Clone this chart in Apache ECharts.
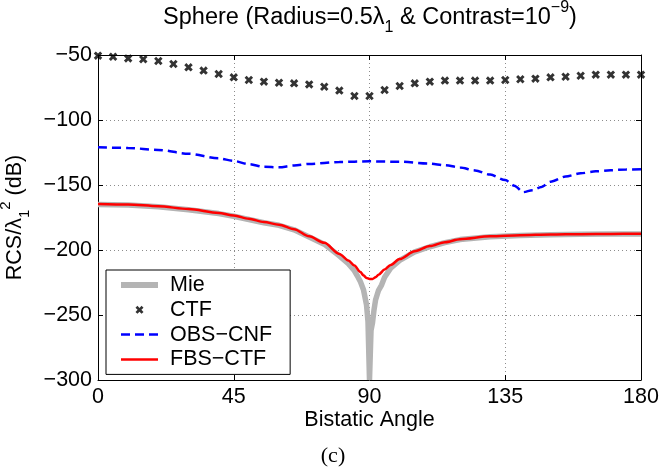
<!DOCTYPE html>
<html>
<head>
<meta charset="utf-8">
<script src="https://cdn.jsdelivr.net/npm/echarts@6/dist/echarts.min.js"></script>
<style>
html, body { margin: 0; padding: 0; background: #fff; }
#main { width: 662px; height: 474px; }
</style>
</head>
<body>
<div id="main"></div>
<script>
// values (bistatic angle in degrees, RCS in dB)
const ctfAngle = [0, 5, 10, 15, 20, 25, 30, 35, 40, 45, 50, 55, 60, 65, 70, 75, 80, 85, 90,
    95, 100, 105, 110, 115, 120, 125, 130, 135, 140, 145, 150, 155, 160, 165, 170, 175, 180];
const ctfValue = [-50.5, -51.3, -52.6, -53.3, -54.6, -56.9, -59.5, -62, -64.6, -67.2, -69.2, -70.5, -71.3, -71.8, -72.6, -74.4, -77.4, -81.5, -81.5,
    -76.9, -73.8, -71.8, -70.5, -69.7, -69.7, -69.7, -69.7, -69.2, -68.7, -68.2, -67.2, -66.7, -65.9, -65.1, -65.1, -65.1, -65.1];

const obsAngle = [0, 10, 20, 30, 40, 45, 50, 55, 60, 65, 70, 80, 90, 100, 110, 115, 120, 125, 130, 135,
    138, 141, 144, 147, 150, 155, 160, 165, 170, 175, 180];
const obsValue = [-121, -121.5, -123, -126, -129.5, -131.5, -134, -136, -136.4, -135, -133.8, -132.3, -131.8, -132.1, -133.5, -134.8, -136.5, -138.8, -142, -146.2,
    -150.5, -155.5, -154, -151.5, -147.5, -143.5, -141, -139.5, -138.6, -138.1, -137.9];

const fbsAngle = [0, 10, 20, 30, 40, 45, 50, 55, 60, 65, 70, 75, 80, 83, 85, 87, 88, 89, 90, 91, 92, 93,
    95, 97, 100, 105, 110, 115, 120, 130, 140, 150, 160, 170, 180];
const fbsValue = [-164.6, -165, -166.3, -168.5, -171.5, -173.5, -176, -178.5, -180.5, -184, -189.5, -194.5, -203, -208, -212, -217, -219.5, -221.5, -222.3, -222.3, -221, -219,
    -215, -211.5, -207, -201, -197, -194, -191.7, -189.5, -188.6, -188.1, -187.8, -187.6, -187.5];

const mieAngle = [0, 10, 20, 30, 40, 45, 50, 55, 60, 65, 70, 75, 80, 83, 85, 86, 87, 88, 89, 89.5, 90,
    90.5, 91, 91.5, 92, 93, 94, 95, 97, 100, 105, 110, 115, 120, 130, 140, 150, 160, 170, 180];
const mieValue = [-165, -165.4, -166.7, -169, -172, -174, -176.5, -179, -181, -184.5, -190, -195.5, -204.5, -210.5, -216, -220, -224.5, -230.5, -242, -255, -300,
    -262, -256, -246, -238.5, -231, -227, -221, -214, -208, -201.5, -197.5, -194.3, -192, -189.8, -188.8, -188.2, -187.9, -187.7, -187.6];

const seriesNames = ['Mie', 'CTF', 'OBS\u2212CNF', 'FBS\u2212CTF'];

const font = 'Liberation Sans, Arial, Helvetica, sans-serif';
const pair = (xs, ys) => xs.map((x, i) => [x, ys[i]]);
const minus = v => String(v).replace('-', '\u2212');
// a filled "x" so it renders bold like the MATLAB marker
const crossPath = 'path://M0,2.4L2.4,0L5,2.6L7.6,0L10,2.4L7.4,5L10,7.6L7.6,10L5,7.4L2.4,10L0,7.6L2.6,5Z';

// sub- and superscript pieces for rich text
const scripts = size => ({
    s: { fontFamily: font, fontSize: size, lineHeight: size, verticalAlign: 'bottom', color: '#000' },
    p: { fontFamily: font, fontSize: size, lineHeight: size, verticalAlign: 'top', color: '#000' }
});

const chart = echarts.init(document.getElementById('main'));

const option = {
    animation: false,
    backgroundColor: '#fff',
    title: [
        {
            text: 'Sphere (Radius=0.5\u03bb{s|1} & Contrast=10{p|\u22129})',
            left: 370,
            top: 0,
            padding: 0,
            textAlign: 'center',
            textStyle: {
                fontFamily: font,
                fontSize: 23.5,
                fontWeight: 'normal',
                color: '#000',
                lineHeight: 36,
                rich: scripts(16)
            }
        },
        {
            text: '(c)',
            left: 333,
            top: 445,
            padding: 0,
            textAlign: 'center',
            textStyle: { fontFamily: 'Liberation Serif, Times New Roman, serif', fontSize: 22, fontWeight: 'normal', color: '#000' }
        }
    ],
    legend: {
        orient: 'vertical',
        left: 106,
        top: 270,
        itemWidth: 37,
        itemHeight: 8,
        itemGap: 2.8,
        padding: [4, 18, 4, 12],
        borderColor: '#000',
        borderWidth: 1,
        borderRadius: 0,
        backgroundColor: '#fff',
        selectedMode: false,
        textStyle: { fontFamily: font, fontSize: 21.5, color: '#000', lineHeight: 22, padding: [0, 0, 0, 7] },
        data: [
            { name: seriesNames[0], lineStyle: { width: 6 }, itemStyle: { opacity: 0 } },
            { name: seriesNames[1] },
            { name: seriesNames[2], lineStyle: { width: 2.5 }, itemStyle: { opacity: 0 } },
            { name: seriesNames[3], lineStyle: { width: 2.5 }, itemStyle: { opacity: 0 } }
        ]
    },
    grid: { left: 98, right: 21, top: 55, bottom: 94, containLabel: false, outerBoundsMode: 'none' },
    xAxis: [
        {
            type: 'value',
            min: 0, max: 180, interval: 45,
            name: 'Bistatic Angle',
            nameLocation: 'middle',
            nameGap: 29,
            nameMoveOverlap: false,
            nameTextStyle: { fontFamily: font, fontSize: 21.5, color: '#000' },
            axisLine: { onZero: false, lineStyle: { color: '#000', width: 1 } },
            axisTick: { inside: true, length: 5, lineStyle: { color: '#000' } },
            axisLabel: { fontFamily: font, fontSize: 21.5, color: '#000', margin: 6 },
            splitLine: { show: true, lineStyle: { color: '#8c8c8c', type: [1, 3], width: 1 } }
        },
        {
            type: 'value',
            position: 'top',
            min: 0, max: 180, interval: 45,
            axisLine: { onZero: false, lineStyle: { color: '#000', width: 1 } },
            axisTick: { inside: true, length: 5, lineStyle: { color: '#000' } },
            axisLabel: { show: false },
            splitLine: { show: false }
        }
    ],
    yAxis: [
        {
            type: 'value',
            min: -300, max: -50, interval: 50,
            name: 'RCS/\u03bb{s|1}{p|2} (dB)',
            nameLocation: 'middle',
            nameGap: 66,
            nameMoveOverlap: false,
            nameTextStyle: {
                fontFamily: font, fontSize: 21.5, color: '#000', lineHeight: 34,
                rich: scripts(15)
            },
            axisLine: { onZero: false, lineStyle: { color: '#000', width: 1 } },
            axisTick: { inside: true, length: 5, lineStyle: { color: '#000' } },
            axisLabel: { fontFamily: font, fontSize: 21.5, color: '#000', margin: 6, formatter: minus },
            splitLine: { show: true, lineStyle: { color: '#8c8c8c', type: [1, 3], width: 1 } }
        },
        {
            type: 'value',
            position: 'right',
            min: -300, max: -50, interval: 50,
            axisLine: { onZero: false, lineStyle: { color: '#000', width: 1 } },
            axisTick: { inside: true, length: 5, lineStyle: { color: '#000' } },
            axisLabel: { show: false },
            splitLine: { show: false }
        }
    ],
    series: [
        {
            name: seriesNames[0],
            type: 'line',
            data: pair(mieAngle, mieValue),
            symbol: 'none',
            smooth: false,
            clip: true,
            lineStyle: { color: '#b4b4b4', width: 5.5 },
            itemStyle: { color: '#b4b4b4' },
            z: 2
        },
        {
            name: seriesNames[1],
            type: 'scatter',
            data: pair(ctfAngle, ctfValue),
            symbol: crossPath,
            symbolSize: 8.5,
            itemStyle: { color: '#000' },
            z: 5
        },
        {
            name: seriesNames[2],
            type: 'line',
            data: pair(obsAngle, obsValue),
            symbol: 'none',
            smooth: 0.3,
            smoothMonotone: 'x',
            lineStyle: { color: '#0000ff', width: 2.5, type: [9, 5] },
            itemStyle: { color: '#0000ff' },
            z: 3
        },
        {
            name: seriesNames[3],
            type: 'line',
            data: pair(fbsAngle, fbsValue),
            symbol: 'none',
            smooth: 0.3,
            smoothMonotone: 'x',
            lineStyle: { color: '#ff0000', width: 2.5 },
            itemStyle: { color: '#ff0000' },
            z: 4
        }
    ]
};

chart.setOption(option);
</script>
</body>
</html>
